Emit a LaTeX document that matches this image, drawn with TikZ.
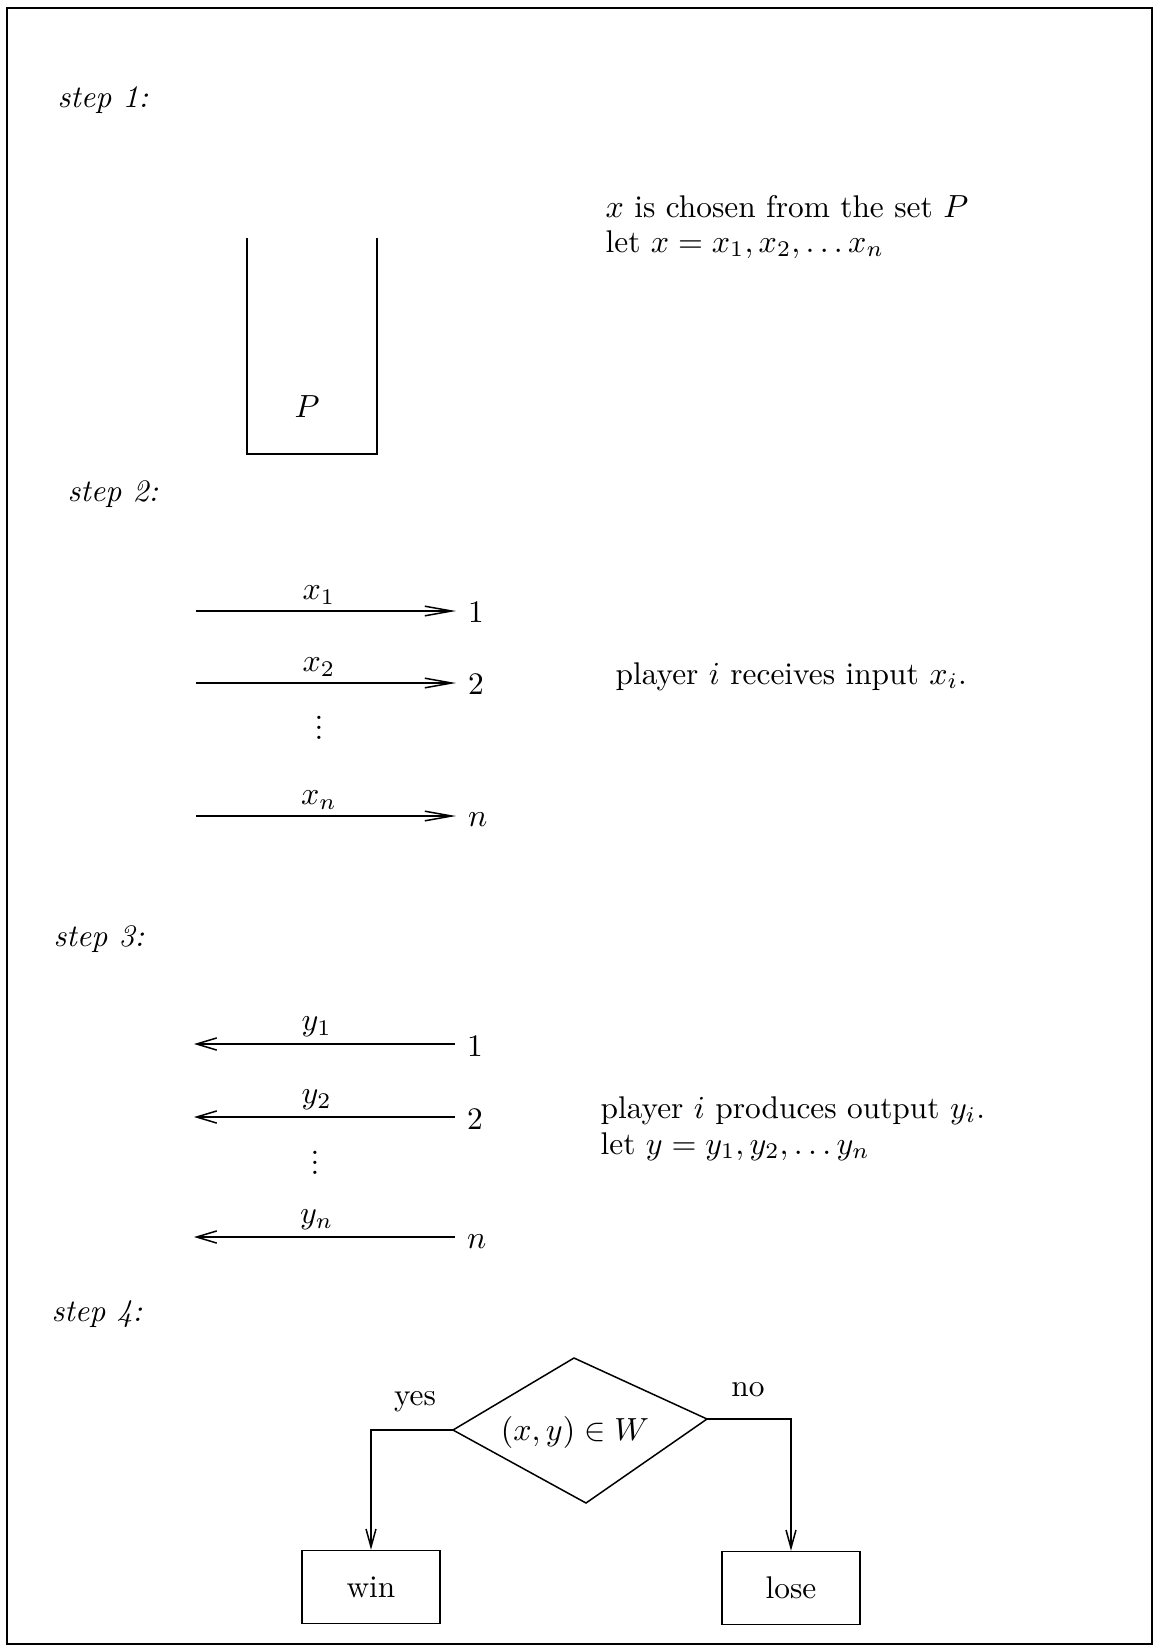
\documentclass[tikz,border=0pt]{standalone}
\usetikzlibrary{arrows.meta}
\newcommand{\tightvdots}{\vbox{\baselineskip=3.2pt\lineskiplimit=0pt\hbox{.}\hbox{.}\hbox{.}}}
\begin{document}
\begin{tikzpicture}[x=0.3125pt,y=-0.3125pt,
  every node/.style={font=\fontsize{9.8}{12}\selectfont, inner sep=0pt},
  steplabel/.style={font=\fontsize{9.8}{12}\selectfont\itshape, anchor=base west},
  txt/.style={anchor=base west},
  numlabel/.style={anchor=base west, inner xsep=3.6pt},
  edgelabel/.style={above=1.9pt},
  rarrow/.style={line width=0.47pt, -{Straight Barb[length=8.4pt,width=3pt]}},
  larrow/.style={line width=0.47pt, {Straight Barb[length=6.3pt,width=3.8pt]}-},
  varrow/.style={line width=0.47pt, -{Straight Barb[length=5.6pt,width=3.1pt]}},
  plain/.style={line width=0.47pt},
  outcome/.style={draw, line width=0.47pt, minimum width=43.1pt, minimum height=22.8pt}
]
\useasboundingbox (0,0) rectangle (1160,1648);
\draw[line width=0.625pt] (7,8) rectangle (1152,1644);

% step labels
\node[steplabel] (st1) at (57,107) {step~1:};
\node[steplabel] (st2) at (67,501) {step~2:};
\node[steplabel] (st3) at (53,946) {step~3:};
\node[steplabel] (st4) at (51,1321) {step~4:};

% step 1: container P
\draw[plain] (247,238) -- (247,454) -- (377,454) -- (377,238);
\node (P) at (307,407) {$P$};
\node[txt] (t1) at (605,217) {$x$ is chosen from the set $P$};
\node[txt] (t2) at (605,252) {let $x=x_1,x_2,\ldots x_n$};

% step 2: inputs
\coordinate (a1) at (196,611);
\coordinate (a2) at (196,683);
\coordinate (an) at (196,816);
\node[numlabel] (r1) at (456,622) {1};
\node[numlabel] (r2) at (456,694) {2};
\node[numlabel] (rn) at (456,826) {$n$};
\draw[rarrow] (a1) -- node[edgelabel, pos=0.473] (lx1) {$x_1$} (a1 -| r1.west);
\draw[rarrow] (a2) -- node[edgelabel, pos=0.473] (lx2) {$x_2$} (a2 -| r2.west);
\draw[rarrow] (an) -- node[edgelabel, pos=0.473] (lxn) {$x_n$} (an -| rn.west);
\node (vd1) at (319,728) {\tightvdots};
\node[txt] (t3) at (615,684) {player $i$ receives input $x_i$.};

% step 3: outputs
\coordinate (b1) at (194,1044);
\coordinate (b2) at (194,1117);
\coordinate (bn) at (194,1237);
\node[numlabel] (q1) at (455,1056) {1};
\node[numlabel] (q2) at (455,1129) {2};
\node[numlabel] (qn) at (455,1248) {$n$};
\draw[larrow] (b1) -- node[edgelabel, pos=0.47] (ly1) {$y_1$} (b1 -| q1.west);
\draw[larrow] (b2) -- node[edgelabel, pos=0.47] (ly2) {$y_2$} (b2 -| q2.west);
\draw[larrow] (bn) -- node[edgelabel, pos=0.47] (lyn) {$y_n$} (bn -| qn.west);
\node (vd2) at (315,1163) {\tightvdots};
\node[txt] (t4) at (600,1118) {player $i$ produces output $y_i$.};
\node[txt] (t5) at (600,1154) {let $y=y_1,y_2,\ldots y_n$};

% step 4: decision
\coordinate (dl) at (453,1430);
\coordinate (dt) at (574,1358);
\coordinate (dr) at (707,1419);
\coordinate (db) at (586,1503);
\draw[plain] (dl) -- (dt) -- (dr) -- (db) -- cycle;
\node (cond) at (575,1432) {$(x,y)\in W$};
\node[outcome] (win) at (371,1587) {win};
\node[outcome] (lose) at (791,1588) {lose};
\draw[varrow] (dl) -| (win.north);
\draw[varrow] (dr) -| (lose.north);
\node (yes) at (415,1402) {yes};
\node (no) at (748,1390) {no};
\end{tikzpicture}
\end{document}
